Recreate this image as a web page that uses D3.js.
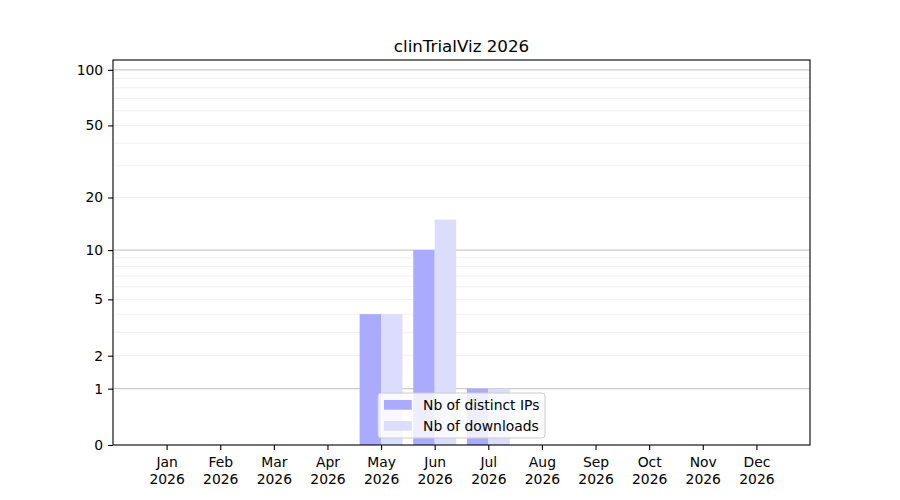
<!DOCTYPE html>
<html>
<head>
<meta charset="utf-8">
<script src="https://cdn.jsdelivr.net/npm/d3@7"></script>
<style>
  body { margin: 0; background: #fff; }
  svg { font-family: "DejaVu Sans", sans-serif; }
  .axis text { font-family: "DejaVu Sans", sans-serif; font-size: 13.9px; fill: #000; }
  .axis path, .axis line { stroke: #000; stroke-width: 1.1px; }
</style>
</head>
<body>
<div id="chart"></div>
<script>
const title = 'clinTrialViz 2026';
const months = ['Jan', 'Feb', 'Mar', 'Apr', 'May', 'Jun', 'Jul', 'Aug', 'Sep', 'Oct', 'Nov', 'Dec'];
const year = '2026';
const distinctIPs = [0, 0, 0, 0, 4, 10, 1, 0, 0, 0, 0, 0];
const downloads = [0, 0, 0, 0, 4, 15, 1, 0, 0, 0, 0, 0];
const yTicks = [0, 1, 2, 5, 10, 20, 50, 100];
const majorGrid = [1, 10, 100];
const minorGrid = [2, 3, 4, 5, 6, 7, 8, 9, 20, 30, 40, 50, 60, 70, 80, 90];
const seriesNames = ['Nb of distinct IPs', 'Nb of downloads'];

const w = 900, h = 500;
const margins = { left: 113, right: 90, top: 60, bottom: 55 };
const width = w - margins.left - margins.right;
const height = h - margins.top - margins.bottom;

const svg = d3.select('#chart').append('svg')
  .attr('width', w)
  .attr('height', h);

// month index 1..12, with a month of padding on each side
const x = d3.scaleLinear().domain([0, 13]).range([0, width]);
// log(1 + v) scale
const y = d3.scaleSymlog().constant(1).domain([0, 113]).range([height, 0]);
const barWidth = x(1.4) - x(1);

const chart = svg.append('g')
  .attr('transform', `translate(${margins.left}, ${margins.top})`);

// grid lines
chart.selectAll('.minor')
  .data(minorGrid)
  .enter().append('line')
  .attr('x1', 0).attr('x2', width)
  .attr('y1', d => y(d)).attr('y2', d => y(d))
  .attr('stroke', '#ebebeb')
  .attr('stroke-width', 0.8);
chart.selectAll('.major')
  .data(majorGrid)
  .enter().append('line')
  .attr('x1', 0).attr('x2', width)
  .attr('y1', d => y(d)).attr('y2', d => y(d))
  .attr('stroke', '#cccccc')
  .attr('stroke-width', 1.1);

// bars
const series = [
  { name: seriesNames[0], values: distinctIPs, color: '#aaaaff', offset: -barWidth },
  { name: seriesNames[1], values: downloads, color: '#dcdcfd', offset: 0 }
];
series.forEach(s => {
  chart.selectAll(null)
    .data(s.values)
    .enter().append('rect')
    .attr('x', (d, i) => x(i + 1) + s.offset)
    .attr('y', d => y(d))
    .attr('width', barWidth)
    .attr('height', d => y(0) - y(d))
    .attr('fill', s.color);
});

// frame
chart.append('rect')
  .attr('width', width).attr('height', height)
  .attr('fill', 'none')
  .attr('stroke', '#000')
  .attr('stroke-width', 1.1);

// axes
const xAxis = d3.axisBottom(x)
  .tickValues(d3.range(1, 13))
  .tickSize(4.9)
  .tickPadding(4.9)
  .tickFormat(d => months[d - 1]);
const gx = chart.append('g')
  .attr('class', 'axis')
  .attr('transform', `translate(0, ${height})`)
  .call(xAxis);
gx.select('.domain').remove();
gx.selectAll('.tick text')
  .text(null)
  .attr('y', 22)
  .attr('dy', null)
  .each(function (d) {
    const t = d3.select(this);
    t.append('tspan').attr('x', 0).attr('dy', 0).text(months[d - 1]);
    t.append('tspan').attr('x', 0).attr('dy', 16.7).text(year);
  });

const yAxis = d3.axisLeft(y)
  .tickValues(yTicks)
  .tickSize(4.9)
  .tickPadding(4.9)
  .tickFormat(d3.format('d'));
const gy = chart.append('g')
  .attr('class', 'axis')
  .call(yAxis);
gy.select('.domain').remove();

// title
svg.append('text')
  .attr('x', margins.left + width / 2)
  .attr('y', margins.top - 8.3)
  .attr('text-anchor', 'middle')
  .style('font-size', '16.7px')
  .text(title);

// legend (lower center)
const legend = chart.append('g')
  .attr('transform', `translate(${width / 2 - 83.5}, ${height - 52})`);
legend.append('rect')
  .attr('width', 167).attr('height', 45)
  .attr('rx', 3)
  .attr('fill', '#fff')
  .attr('fill-opacity', 0.8)
  .attr('stroke', '#cccccc')
  .attr('stroke-width', 1);
series.forEach((s, i) => {
  const row = legend.append('g').attr('transform', `translate(0, ${7 + i * 21})`);
  row.append('rect')
    .attr('x', 6).attr('y', 0)
    .attr('width', 27.8).attr('height', 9.7)
    .attr('fill', s.color);
  row.append('text')
    .attr('x', 45).attr('y', 10)
    .style('font-size', '13.9px')
    .text(s.name);
});
</script>
</body>
</html>
